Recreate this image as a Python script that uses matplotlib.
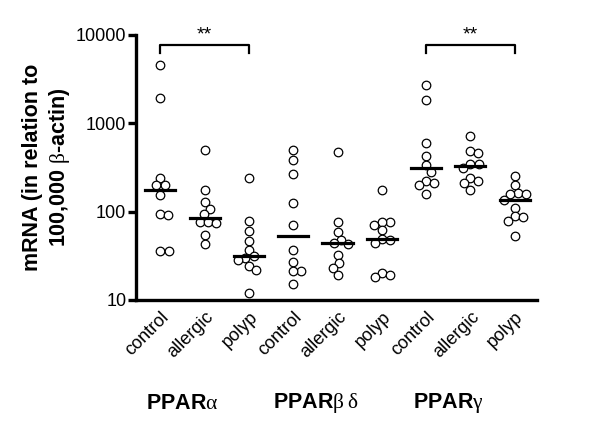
import numpy as np
import matplotlib
matplotlib.use("Agg")
import matplotlib.pyplot as plt

plt.rcParams['font.family'] = ['Liberation Sans', 'DejaVu Sans']
plt.rcParams['mathtext.fontset'] = 'custom'
plt.rcParams['mathtext.rm'] = 'Liberation Serif'

# mRNA per 100,000 beta-actin
alpha_control = [4600, 1930, 237, 199, 199, 154, 94, 91, 36, 36]
alpha_allergic = [495, 175, 127, 108, 93, 77, 77, 75, 54, 43]
alpha_polyp = [237, 79, 61, 46, 37, 31, 30, 28, 24, 22, 12]
bd_control = [495, 382, 265, 124, 70, 37, 27, 21, 21, 15]
bd_allergic = [474, 77, 58, 48, 44, 43, 32, 26, 23, 19]
bd_polyp = [175, 77, 77, 70, 62, 49, 48, 44, 20, 19, 18]
gamma_control = [2690, 1820, 599, 427, 335, 282, 219, 212, 199, 158]
gamma_allergic = [719, 484, 466, 344, 344, 308, 237, 223, 208, 175]
gamma_polyp = [252, 199, 163, 158, 158, 135, 111, 89, 86, 79, 53]

groups = [alpha_control, alpha_allergic, alpha_polyp,
          bd_control, bd_allergic, bd_polyp,
          gamma_control, gamma_allergic, gamma_polyp]
tick_labels = ['control', 'allergic', 'polyp'] * 3
receptor_labels = [r'PPAR$\mathrm{\alpha}$', r'PPAR$\mathrm{\beta\,\delta}$',
                   r'PPAR$\mathrm{\gamma}$']
# significance brackets (first, last category index)
brackets = [(0, 2), (6, 8)]

fig = plt.figure(figsize=(6, 4.34), dpi=100)
ax = fig.add_axes([0.2267, 0.309, 0.668, 0.6106])
ax.set_yscale('log')
ax.set_ylim(10, 10000)
ax.set_xlim(-0.55, 8.5)


def swarm(vals, xc, diam):
    # greedy beeswarm in pixel space
    pts = ax.transData.transform(np.column_stack([np.full(len(vals), xc), vals]))
    order = np.argsort(vals)[::-1]
    placed = []
    xs = np.zeros(len(vals))
    for i in order:
        y = pts[i, 1]
        cands = [0.0]
        for (px, py) in placed:
            dy = abs(py - y)
            if dy < diam:
                dx = np.sqrt(diam ** 2 - dy ** 2)
                cands += [px + dx, px - dx]
        cands.sort(key=lambda c: (abs(c), -c))
        for c in cands:
            if all((c - px) ** 2 + (y - py) ** 2 >= diam ** 2 - 1e-6 for px, py in placed):
                break
        placed.append((c, y))
        xs[i] = c
    back = ax.transData.inverted().transform(
        np.column_stack([pts[:, 0] + xs, pts[:, 1]]))
    return back[:, 0]


for i, vals in enumerate(groups):
    xs = swarm(vals, i, 8.2)
    ax.scatter(xs, vals, s=38, facecolors='white', edgecolors='black',
               linewidths=0.9, zorder=3, clip_on=False)
    med = np.median(vals)
    ax.plot([i - 0.34, i + 0.34], [med, med], color='black', lw=2.3, zorder=4)

for a, b in brackets:
    ax.plot([a, a, b, b], [6200, 7600, 7600, 6200], color='black', lw=1.6,
            clip_on=False)
    ax.text((a + b) / 2, 7900, '**', ha='center', va='bottom', fontsize=14)

for sp in ['top', 'right']:
    ax.spines[sp].set_visible(False)
for sp in ['left', 'bottom']:
    ax.spines[sp].set_linewidth(2.4)

ax.set_yticks([10, 100, 1000, 10000])
ax.set_yticklabels(['10', '100', '1000', '10000'])
ax.minorticks_off()
ax.tick_params(axis='y', length=6, width=2.4, labelsize=13, pad=1)
ax.set_xticks(range(9))
ax.set_xticklabels(tick_labels, rotation=45, ha='right', va='top',
                   rotation_mode='anchor', fontsize=13)
ax.tick_params(axis='x', length=0, pad=6)

ax.set_ylabel('mRNA (in relation to\n100,000 $\\mathrm{\\beta}$-actin)',
              fontsize=15.5, fontweight='bold', labelpad=3)

for k, lab in enumerate(receptor_labels):
    ax.text(3 * k + 0.5, -0.39, lab, transform=ax.get_xaxis_transform(),
            ha='center', va='center', fontsize=15.5, fontweight='bold')

fig.savefig('out.png', dpi=100)
